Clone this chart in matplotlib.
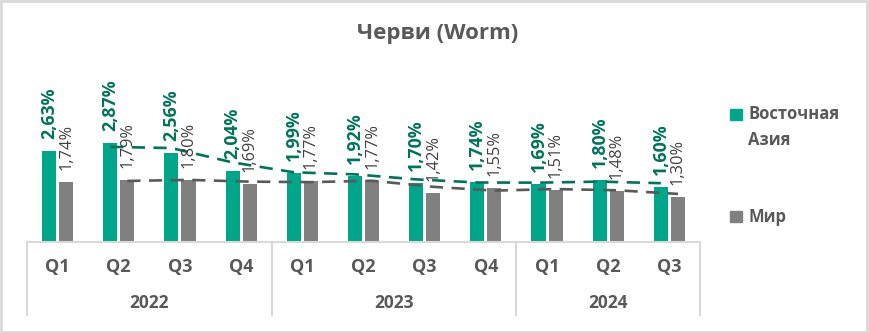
import matplotlib.pyplot as plt
import matplotlib.transforms as mtransforms
import pandas as pd

plt.rcParams['font.family'] = ['Open Sans', 'DejaVu Sans']

quarters = ['Q1', 'Q2', 'Q3', 'Q4', 'Q1', 'Q2', 'Q3', 'Q4', 'Q1', 'Q2', 'Q3']
years = ['2022', '2023', '2024']
year_counts = [4, 4, 3]
east_asia = [2.63, 2.87, 2.56, 2.04, 1.99, 1.92, 1.70, 1.74, 1.69, 1.80, 1.60]
world = [1.74, 1.79, 1.80, 1.69, 1.77, 1.77, 1.42, 1.55, 1.51, 1.48, 1.30]

teal = '#00A68A'
teal_dark = '#00735B'
gray = '#808080'
text_gray = '#595959'

W, H = 869, 333
fig = plt.figure(figsize=(W / 100, H / 100), dpi=100)

# outer chart border
fig.patches.append(plt.Rectangle((0.001, 0.002), 0.997, 0.994, transform=fig.transFigure,
                                 fill=False, edgecolor='#D9D9D9', linewidth=2))

x0, x1, base = 27, 700, 242
ax = fig.add_axes([x0 / W, (H - base) / H, (x1 - x0) / W, 160 / H])
ax.set_ylim(0, 160 / 34.6)
ax.set_xlim(-0.5, len(quarters) - 0.5)
ax.axis('off')

idx = list(range(len(quarters)))
bw = 0.23
off = 0.14
xa = [i - off for i in idx]
xw = [i + off for i in idx]
ax.bar(xa, east_asia, width=bw, color=teal, zorder=2)
ax.bar(xw, world, width=bw, color=gray, zorder=2)

# moving average (2 periods) trendlines
ma_ea = pd.Series(east_asia).rolling(2).mean()
ma_w = pd.Series(world).rolling(2).mean()
ax.plot(xa[1:], ma_ea[1:], color=teal_dark, lw=1.9, ls=(0, (5, 3.2)), zorder=3)
ax.plot(xw[1:], ma_w[1:], color='#595959', lw=1.9, ls=(0, (5, 3.2)), zorder=3)

lab_off = mtransforms.offset_copy(ax.transData, fig=fig, x=0, y=12, units='dots')
for xi, v in zip(xa, east_asia):
    ax.text(xi, v, f'{v:.2f}%'.replace('.', ','), transform=lab_off, rotation=90,
            ha='center', va='bottom', fontsize=12.8, fontweight='bold', color=teal_dark,
            clip_on=False, zorder=4)
for xi, v in zip(xw, world):
    ax.text(xi, v, f'{v:.2f}%'.replace('.', ','), transform=lab_off, rotation=90,
            ha='center', va='bottom', fontsize=11.8, color='#404040',
            clip_on=False, zorder=4)

# category axis table
line_c = '#D9D9D9'
fig.add_artist(plt.Line2D([x0 / W, x1 / W], [(H - base) / H] * 2, color=line_c, lw=1.5))
bounds = [0]
for c in year_counts:
    bounds.append(bounds[-1] + c)
step = (x1 - x0) / len(quarters)
for b in bounds:
    xp = (x0 + b * step) / W
    fig.add_artist(plt.Line2D([xp, xp], [(H - base) / H, (H - 315) / H], color=line_c, lw=1.5))
for i, q in enumerate(quarters):
    fig.text((x0 + (i + 0.5) * step) / W, (H - 267) / H, q, ha='center', va='center',
             fontsize=13, fontweight='bold', color=text_gray)
for k, y in enumerate(years):
    mid = (bounds[k] + bounds[k + 1]) / 2
    fig.text((x0 + mid * step) / W, (H - 303) / H, y, ha='center', va='center',
             fontsize=12.5, fontweight='bold', color=text_gray)

fig.text(438 / W, (H - 34) / H, 'Черви (Worm)', ha='center', va='center',
         fontsize=16, fontweight='bold', color=text_gray)

# legend
fig.patches.append(plt.Rectangle((730 / W, (H - 120) / H), 12 / W, 11 / H,
                                 transform=fig.transFigure, color=teal))
fig.text(748 / W, (H - 114) / H, 'Восточная', ha='left', va='center',
         fontsize=12, fontweight='bold', color=text_gray)
fig.text(748 / W, (H - 140) / H, 'Азия', ha='left', va='center',
         fontsize=12, fontweight='bold', color=text_gray)
fig.patches.append(plt.Rectangle((730 / W, (H - 222) / H), 12 / W, 11 / H,
                                 transform=fig.transFigure, color=gray))
fig.text(748 / W, (H - 217) / H, 'Мир', ha='left', va='center',
         fontsize=12, fontweight='bold', color=text_gray)

fig.savefig('out.png', dpi=100)
